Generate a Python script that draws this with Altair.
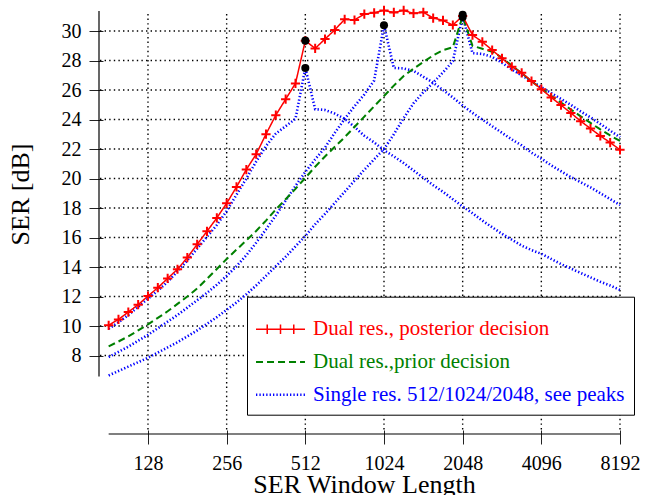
import altair as alt
import pandas as pd

FONT = "Liberation Serif"

# window lengths: 1/8-octave grid from 2^6.5 to 2^13
WINDOW_LOG2 = [6.5 + k / 8 for k in range(53)]
WINDOW = [2 ** v for v in WINDOW_LOG2]

POSTERIOR = [10.05, 10.45, 10.95, 11.45, 12.03, 12.6, 13.23, 13.85, 14.64, 15.54,
             16.42, 17.33, 18.32, 19.43, 20.61, 21.65, 23.01, 24.3, 25.38, 26.45,
             29.35, 28.82, 29.46, 30.08, 30.8, 30.75, 31.15, 31.24, 31.4, 31.26,
             31.4, 31.2, 31.27, 30.88, 30.72, 30.41, 31.02,
             29.73, 29.27, 28.71, 28.15, 27.58, 27.17, 26.61, 26.06, 25.5, 24.98,
             24.45, 23.89, 23.39, 22.89, 22.44, 21.95]

PRIOR = [8.62, 8.95, 9.3, 9.7, 10.12, 10.55, 11.0, 11.5, 12.0, 12.55,
         13.2, 13.87, 14.55, 15.18, 15.8, 16.45, 17.15, 17.9, 18.6, 19.3,
         20.05, 20.8, 21.5, 22.15, 22.8, 23.5, 24.2, 24.9, 25.6, 26.3,
         26.95, 27.45, 27.9, 28.35, 28.7, 28.9, 31.0,
         29.0, 28.8, 28.6, 28.2, 27.65, 27.15, 26.6, 26.1, 25.6, 25.15,
         24.68, 24.22, 23.77, 23.33, 22.92, 22.55]

SINGLE_512 = [9.82, 10.25, 10.75, 11.3, 11.85, 12.4, 13.0, 13.7, 14.45, 15.25,
              16.05, 16.85, 17.8, 18.9, 20.0, 21.15, 22.2, 23.05, 23.55, 24.05,
              27.5, 24.7, 24.65, 24.4, 24.05, 23.5, 22.9, 22.45, 21.92, 21.5,
              21.05, 20.55, 20.05, 19.55, 19.1, 18.6, 18.1,
              17.65, 17.15, 16.7, 16.25, 15.85, 15.45, 15.15, 14.9, 14.55, 14.2,
              13.9, 13.6, 13.3, 13.0, 12.75, 12.45]

SINGLE_1024 = [7.9, 8.25, 8.6, 9.0, 9.4, 9.85, 10.3, 10.75, 11.25, 11.75,
               12.25, 12.8, 13.4, 14.05, 14.8, 15.65, 16.55, 17.5, 18.5, 19.5,
               20.45, 21.3, 22.1, 23.1, 24.05, 24.9, 25.7, 26.65, 30.4, 27.5,
               27.47, 27.3, 26.9, 26.5, 26.0, 25.5, 24.95,
               24.45, 24.0, 23.55, 23.1, 22.65, 22.25, 21.75, 21.35, 20.9, 20.5,
               20.1, 19.75, 19.4, 19.0, 18.6, 18.2]

SINGLE_2048 = [6.65, 6.95, 7.25, 7.55, 7.85, 8.2, 8.55, 8.9, 9.3, 9.7,
               10.15, 10.6, 11.1, 11.6, 12.15, 12.75, 13.4, 14.05, 14.7, 15.4,
               16.1, 16.9, 17.6, 18.35, 19.1, 19.85, 20.6, 21.3, 22.0, 23.0,
               24.1, 25.1, 25.85, 26.5, 27.2, 27.95, 31.0,
               28.5, 28.45, 28.25, 27.85, 27.4, 27.0, 26.6, 26.2, 25.8, 25.4,
               25.0, 24.55, 24.15, 23.7, 23.25, 22.8]

PEAK_X = [512, 512, 1024, 2048, 2048]
PEAK_Y = [29.35, 27.5, 30.4, 31.1, 30.95]

X_TICKS = [128, 256, 512, 1024, 2048, 4096, 8192]
Y_TICKS = [8, 10, 12, 14, 16, 18, 20, 22, 24, 26, 28, 30]

S_POST = "Dual res., posterior decision"
S_PRIOR = "Dual res.,prior decision"
S_SINGLE = "Single res. 512/1024/2048, see peaks"
SERIES = [S_POST, S_PRIOR, S_SINGLE]
COLORS = ["#ff0000", "#008000", "#0000ff"]
DASHES = [[1, 0], [7, 4], [1.3, 2.1]]
WIDTHS = [1.5, 2.6, 1.4]

rows = []
for series, curve, values in [(S_SINGLE, "512", SINGLE_512), (S_SINGLE, "1024", SINGLE_1024),
                              (S_SINGLE, "2048", SINGLE_2048), (S_PRIOR, "prior", PRIOR),
                              (S_POST, "post", POSTERIOR)]:
    for w, v in zip(WINDOW, values):
        rows.append({"window": w, "ser": v, "series": series, "curve": curve})
df = pd.DataFrame(rows)
peaks = pd.DataFrame({"window": PEAK_X, "ser": PEAK_Y})
xgrid = pd.DataFrame({"window": X_TICKS})
ygrid = pd.DataFrame({"ser": Y_TICKS})

W, H = 521, 423
x_scale = alt.Scale(type="log", base=2, domain=[83.13, 8192], nice=False)
y_scale = alt.Scale(domain=[2.68, 31.36], nice=False, zero=False)

x_axis = alt.Axis(values=X_TICKS, format="d", domain=False, grid=False, tickSize=14,
                  tickColor="#222222", tickWidth=1, offset=-4, labelFont=FONT, labelFontSize=20,
                  labelColor="black", labelPadding=9, labelFlush=False, labelOverlap=False,
                  title="SER Window Length", titleFont=FONT, titleFontSize=26,
                  titleFontWeight="normal", titleColor="black", titleX=265, titleY=62,
                  titleBaseline="alphabetic", titleAlign="center")
y_axis = alt.Axis(values=Y_TICKS, domain=False, grid=False, tickSize=14,
                  tickColor="#222222", tickWidth=1, offset=-4, labelFont=FONT, labelFontSize=20,
                  labelColor="black", labelPadding=8, labelOverlap=False,
                  title="SER [dB]", titleFont=FONT, titleFontSize=26, titleFontWeight="normal",
                  titleColor="black", titleX=-74.5, titleY=183, titleAngle=270,
                  titleBaseline="alphabetic", titleAlign="center")

SYM_EXPR = ("datum.value === '%s' ? 'M-3.06,0H3.06M-1.66,-0.6V0.6M0,-0.6V0.6M1.66,-0.6V0.6'"
            " : 'M-3.06,0H3.06'") % S_POST
COLOR_EXPR = ("datum.value === '%s' ? '#ff0000' : datum.value === '%s' ? '#008000' : '#0000ff'"
              % (S_POST, S_PRIOR))
DASH_EXPR = ("datum.value === '%s' ? [7, 4] : datum.value === '%s' ? [1.3, 2.1] : [1, 0]"
             % (S_PRIOR, S_SINGLE))
WIDTH_EXPR = ("datum.value === '%s' ? 2.4 : datum.value === '%s' ? 2.6 : 1.4"
              % (S_POST, S_PRIOR))
LABEL_EXPR = ("datum.value === '%s' ? datum.label + '\u00a0\u00a0\u00a0\u00a0\u00a0' : datum.label"
              % S_SINGLE)

legend = alt.Legend(orient="none", legendX=148, legendY=285.7, title=" ", titleFontSize=9,
                    titlePadding=4, fillColor="white", strokeColor="black", padding=9,
                    symbolType=alt.ExprRef(expr=SYM_EXPR), symbolSize=256, symbolOffset=14,
                    symbolStrokeWidth=alt.ExprRef(expr=WIDTH_EXPR),
                    symbolDash=alt.ExprRef(expr=DASH_EXPR),
                    labelColor=alt.ExprRef(expr=COLOR_EXPR), labelExpr=LABEL_EXPR,
                    labelFont=FONT, labelFontSize=21, labelOffset=22, labelLimit=600,
                    rowPadding=10.8, zindex=5)

color_enc = alt.Color("series:N", scale=alt.Scale(domain=SERIES, range=COLORS), legend=legend)
dash_enc = alt.StrokeDash("series:N", scale=alt.Scale(domain=SERIES, range=DASHES), legend=None)
width_enc = alt.StrokeWidth("series:N", scale=alt.Scale(domain=SERIES, range=WIDTHS), legend=None)

X_ENC = alt.X("window:Q", scale=x_scale, axis=x_axis)
Y_ENC = alt.Y("ser:Q", scale=y_scale, axis=y_axis)

GRID_STYLE = dict(color="#000000", strokeWidth=1.4, strokeDash=[1.4, 3.2], opacity=1)
vgrid = alt.Chart(xgrid).mark_rule(**GRID_STYLE).encode(
    x=X_ENC, y=alt.value(3), y2=alt.value(H - 2))
hgrid = alt.Chart(ygrid).mark_rule(**GRID_STYLE).encode(
    y=Y_ENC, x=alt.value(1), x2=alt.value(W))


def line_layer(series):
    return alt.Chart(df).transform_filter(alt.datum.series == series).mark_line().encode(
        x=X_ENC, y=Y_ENC, color=color_enc, strokeDash=dash_enc, strokeWidth=width_enc,
        detail="curve:N",
    )


base_one = pd.DataFrame({"a": [0]})
y_axis_line = alt.Chart(base_one).mark_rule(color="black", strokeWidth=1.2).encode(
    x=alt.value(0),
    y=alt.Y(datum=6.58, scale=y_scale, axis=y_axis),
    y2=alt.Y2(datum=31.36))
x_axis_line = alt.Chart(base_one).mark_rule(color="black", strokeWidth=1.2).encode(
    y=alt.value(H),
    x=alt.X(datum=WINDOW[0], scale=x_scale, axis=x_axis),
    x2=alt.X2(datum=8192))

markers = alt.Chart(df).transform_filter(alt.datum.series == S_POST).mark_point(
    shape="M-1,0H1M0,-1V1", size=85, strokeWidth=2, filled=False, color="#ff0000", opacity=1
).encode(x=X_ENC, y=Y_ENC)

dots = alt.Chart(peaks).mark_circle(color="black", size=65, opacity=1).encode(x=X_ENC, y=Y_ENC)

chart = alt.layer(
    vgrid, hgrid,
    line_layer(S_SINGLE), line_layer(S_PRIOR), line_layer(S_POST),
    markers, dots, y_axis_line, x_axis_line,
).properties(
    width=W, height=H,
    padding={"left": 99, "top": 11, "right": 26, "bottom": 61},
    autosize=alt.AutoSizeParams(type="none"),
).configure_view(stroke=None)

chart.save("out.html", embed_options={"renderer": "svg", "actions": False})
